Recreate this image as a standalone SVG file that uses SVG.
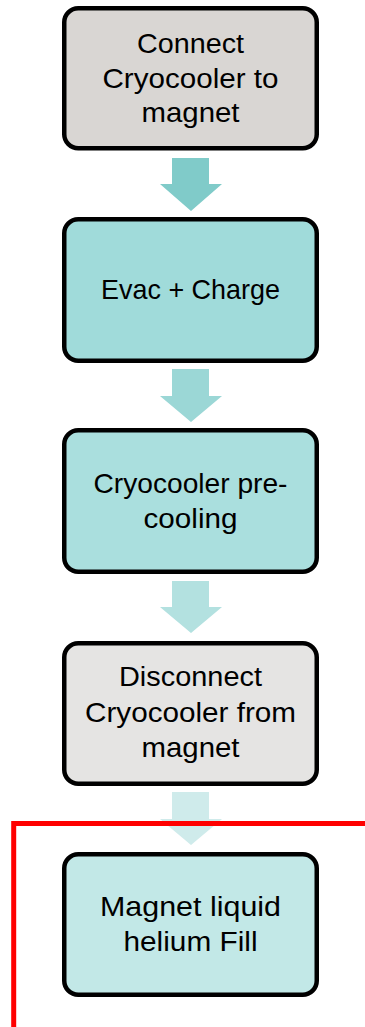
<svg xmlns="http://www.w3.org/2000/svg" width="365" height="1027" viewBox="0 0 365 1027">
<style>
.box{stroke:#000;stroke-width:4.5}
.lbl{font-family:"Liberation Sans",Arial,sans-serif;font-size:27.5px;fill:#000;text-anchor:middle}
</style>
<rect width="365" height="1027" fill="#fff"/>
<g id="connectors">
<polygon id="arrow1" fill="#80CBC9" points="172,158 209,158 209,184 222,184 191,211 160,184 172,184"/>
<polygon id="arrow2" fill="#9BD7D6" points="172,369 209,369 209,396 222,396 191,422 160,396 172,396"/>
<polygon id="arrow3" fill="#B3E1E0" points="172,581 209,581 209,607 222,607 191,633 160,607 172,607"/>
<polygon id="arrow4" fill="#CFEBEB" points="172,792 209,792 209,819 222,819 191,845 160,819 172,819"/>
</g>
<g id="node1">
<rect class="box" x="64.25" y="8.25" width="252.5" height="140" rx="14" fill="#D9D6D3"/>
<text class="lbl" x="190.5" y="52.5" textLength="107" lengthAdjust="spacingAndGlyphs">Connect</text>
<text class="lbl" x="190.5" y="87.5" textLength="176" lengthAdjust="spacingAndGlyphs">Cryocooler to</text>
<text class="lbl" x="190.5" y="121.5" textLength="98" lengthAdjust="spacingAndGlyphs">magnet</text>
</g>
<g id="node2">
<rect class="box" x="64.25" y="219.25" width="252.5" height="141.5" rx="14" fill="#A0DBDA"/>
<text class="lbl" x="190.5" y="299" textLength="179" lengthAdjust="spacingAndGlyphs">Evac + Charge</text>
</g>
<g id="node3">
<rect class="box" x="64.25" y="430.25" width="252.5" height="141.5" rx="14" fill="#AADFDE"/>
<text class="lbl" x="190.5" y="492.7" textLength="194" lengthAdjust="spacingAndGlyphs">Cryocooler pre-</text>
<text class="lbl" x="190.5" y="528.3" textLength="94" lengthAdjust="spacingAndGlyphs">cooling</text>
</g>
<g id="node4">
<rect class="box" x="64.25" y="643.25" width="252.5" height="140.5" rx="14" fill="#E5E4E3"/>
<text class="lbl" x="190.5" y="686" textLength="143" lengthAdjust="spacingAndGlyphs">Disconnect</text>
<text class="lbl" x="190.5" y="721.7" textLength="211" lengthAdjust="spacingAndGlyphs">Cryocooler from</text>
<text class="lbl" x="190.5" y="756.7" textLength="98" lengthAdjust="spacingAndGlyphs">magnet</text>
</g>
<g id="node5">
<rect class="box" x="64.25" y="854.25" width="252.5" height="140.5" rx="14" fill="#C2E8E7"/>
<text class="lbl" x="190.5" y="916" textLength="181" lengthAdjust="spacingAndGlyphs">Magnet liquid</text>
<text class="lbl" x="190.5" y="950.7" textLength="134" lengthAdjust="spacingAndGlyphs">helium Fill</text>
</g>
<path id="red-boundary" d="M13.7,1027 V823.4 H365" fill="none" stroke="#FF0000" stroke-width="5"/>
</svg>
